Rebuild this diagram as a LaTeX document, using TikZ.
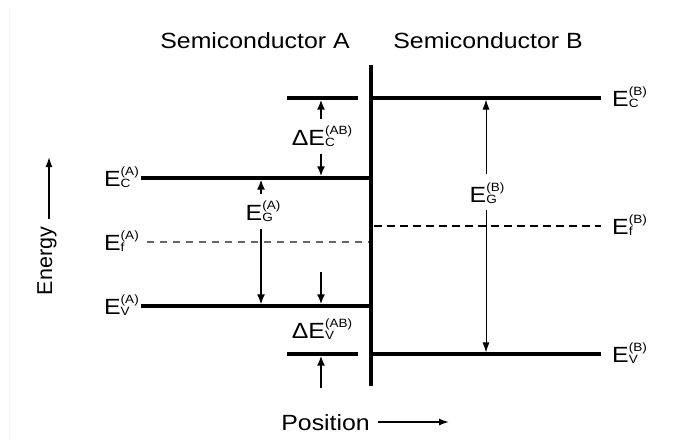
\documentclass[tikz,border=0pt]{standalone}
\usepackage{fontspec}
\setmainfont[FakeStretch=1.13]{Liberation Sans}
\newfontfamily\plainsans{Liberation Sans}
\usetikzlibrary{arrows.meta,positioning}
\newcommand{\lev}[3]{#1\rlap{\raisebox{-1.8pt}{\fontsize{12}{14}\selectfont #2}}\raisebox{10.5pt}{\fontsize{12}{14}\selectfont #3}}

\begin{document}
\begin{tikzpicture}[x=1pt, y=-1pt,
  lbl/.style={font=\fontsize{22}{26}\selectfont, inner sep=0pt},
  band/.style={line width=3.4pt},
  fermiA/.style={gray!80!black, line width=1.2pt, dash pattern=on 7pt off 6pt},
  fermiB/.style={line width=1.8pt, dash pattern=on 8pt off 5pt},
  offarr/.style={-{Latex[length=10pt,width=8pt]}, line width=2.4pt, shorten >=1.6pt},
  gaparr/.style={-{Latex[length=10pt,width=8pt]}, line width=1.7pt, shorten >=1.6pt},
  gapthin/.style={-{Latex[length=10pt,width=7pt]}, line width=0.9pt, shorten >=1.6pt},
  axarr/.style={-{Latex[length=10pt,width=7pt]}, line width=1.4pt}]
\useasboundingbox (0,0) rectangle (674,439);
\draw[gray!10] (9,10) -- (9,439);
\node[lbl, anchor=base] (semiA) at (255,48) {Semiconductor A};
\node[lbl, anchor=base] (semiB) at (488,48) {Semiconductor B};
\coordinate (ifTop) at (371,65); \coordinate (ifBot) at (371,386);
\coordinate (cAw) at (141,178); \coordinate (cAe) at (371,178);
\coordinate (fAw) at (147,242); \coordinate (fAe) at (369,242);
\coordinate (vAw) at (141,306); \coordinate (vAe) at (371,306);
\coordinate (cBw) at (371,98); \coordinate (cBe) at (601,98);
\coordinate (fBw) at (374,226); \coordinate (fBe) at (601,226);
\coordinate (vBw) at (371,354); \coordinate (vBe) at (601,354);
\coordinate (dCw) at (287,98); \coordinate (dCe) at (358,98);
\coordinate (dVw) at (287,354); \coordinate (dVe) at (358,354);
\draw[band] (ifTop) -- (ifBot);
\draw[band] (cAw) -- (cAe); \draw[band] (vAw) -- (vAe);
\draw[band] (cBw) -- (cBe); \draw[band] (vBw) -- (vBe);
\draw[band] (dCw) -- (dCe); \draw[band] (dVw) -- (dVe);
\draw[fermiA] (fAw) -- (fAe); \draw[fermiB] (fBw) -- (fBe);
\node[lbl, anchor=base east] (ECA) at (139,186) {\lev{E}{C}{(A)}};
\node[lbl, anchor=base east] (EfA) at (139,250) {\lev{E}{f}{(A)}};
\node[lbl, anchor=base east] (EVA) at (139,314) {\lev{E}{V}{(A)}};
\node[lbl, anchor=base west] (ECB) at (612,106) {\lev{E}{C}{(B)}};
\node[lbl, anchor=base west] (EfB) at (612,234) {\lev{E}{f}{(B)}};
\node[lbl, anchor=base west] (EVB) at (612,362) {\lev{E}{V}{(B)}};
\node[lbl, anchor=base] (dEC) at (322,145) {\lev{ΔE}{C}{(AB)}};
\node[lbl, anchor=base] (dEV) at (322,338) {\lev{ΔE}{V}{(AB)}};
\node[lbl, anchor=base] (EGA) at (263,220) {\lev{E}{G}{(A)}};
\node[lbl, anchor=base] (EGB) at (487,202) {\lev{E}{G}{(B)}};
\coordinate (egA) at (261,0); \coordinate (egB) at (486,0); \coordinate (dE) at (321,0);
\coordinate (dVtop) at (321,272); \coordinate (dVbot) at (321,388);
\draw[offarr] (dEC.north -| dE) ++(0,-7) -- (dE |- dCe);
\draw[offarr] (dEC.south -| dE) ++(0,7) -- (dE |- cAe);
\draw[offarr] (dVtop) -- (dVtop |- vAe);
\draw[offarr] (dVbot) -- (dVbot |- dVe);
\draw[gaparr] (EGA.north -| egA) ++(0,-7) -- (egA |- cAe);
\draw[gaparr] (EGA.south -| egA) ++(0,7) -- (egA |- vAe);
\draw[gapthin] (EGB.north -| egB) ++(0,-9) -- (egB |- cBe);
\draw[gapthin] (EGB.south -| egB) ++(0,6) -- (egB |- vBe);
\node[font=\plainsans\fontsize{21.5}{25}\selectfont, inner sep=0pt, rotate=90, anchor=base] (energy) at (52,261) {Energy};
\coordinate (etop) at (49,157);
\draw[axarr] (energy.east -| etop) ++(0,-8) -- (etop);
\node[lbl, anchor=base east] (pos) at (370,430) {Position};
\coordinate (pend) at (449,422);
\draw[axarr] (pos.east |- pend) ++(8,0) -- (pend);
\end{tikzpicture}
\end{document}
